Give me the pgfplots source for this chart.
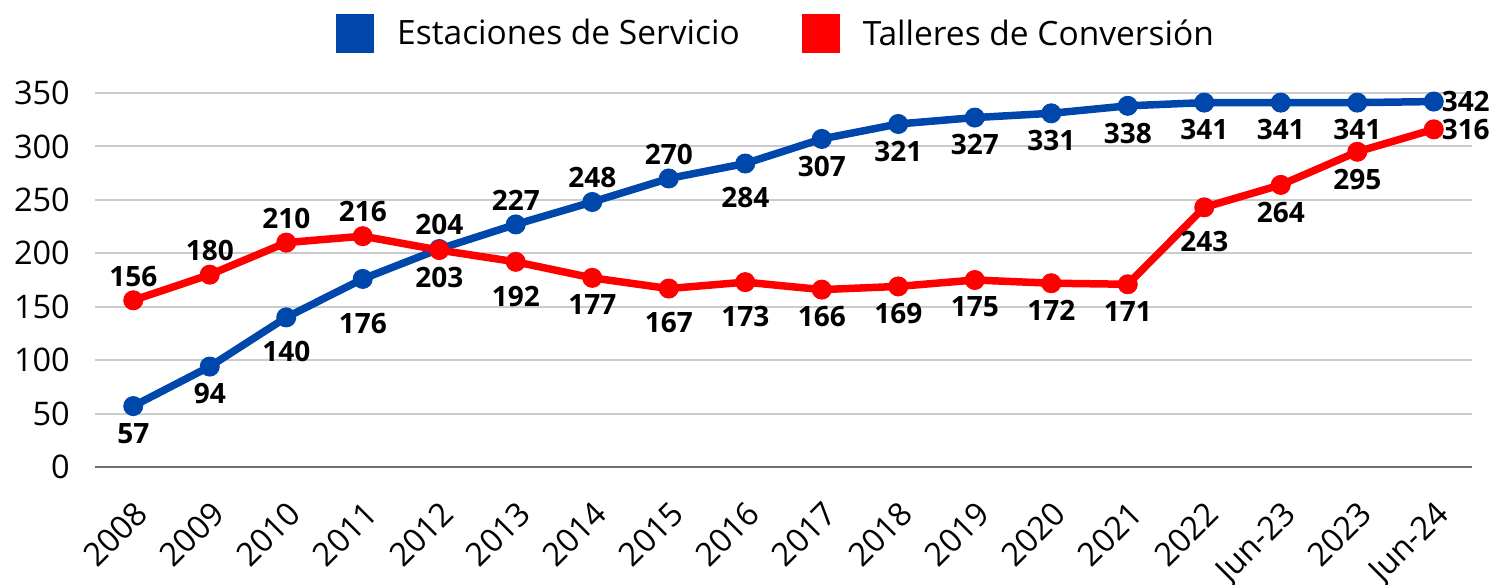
\documentclass[border=0pt]{standalone}
\usepackage{pgfplots}
\pgfplotsset{compat=1.18}
\usepackage{pgfplotstable}
\usepackage{fontspec}
\setmainfont{Open Sans}
\definecolor{cblue}{RGB}{0,71,171}
\definecolor{cred}{RGB}{255,0,0}
\definecolor{cgrid}{RGB}{204,204,204}
\definecolor{caxis}{RGB}{110,110,110}

\newcommand\lblnorth{\tikzset{anchor=north, outer sep=17pt}}
\newcommand\lblnorthB{\tikzset{anchor=north, outer sep=24pt}}
\newcommand\lblnorthC{\tikzset{anchor=north, outer sep=34pt}}
\newcommand\lblsouth{\tikzset{anchor=south, outer sep=14pt}}
\newcommand\lblwest{\tikzset{anchor=west, outer sep=8pt}}

\pgfplotstableread{
x y anc
0 57 north
1 94 north
2 140 northB
3 176 northC
4 204 south
5 227 south
6 248 south
7 270 south
8 284 northB
9 307 north
10 321 north
11 327 north
12 331 north
13 338 north
14 341 north
15 341 north
16 341 north
17 342 west
}\blueseries

\pgfplotstableread{
x y anc
0 156 south
1 180 south
2 210 south
3 216 south
4 203 north
5 192 northB
6 177 north
7 167 northB
8 173 northB
9 166 north
10 169 north
11 175 north
12 172 north
13 171 north
14 243 northB
15 264 north
16 295 north
17 316 west
}\redseries

\begin{document}
\begin{tikzpicture}
\begin{axis}[
  at={(0pt,0pt)}, anchor=south west,
  scale only axis, width=1377pt, height=374pt,
  xmin=-0.5, xmax=17.5, ymin=0, ymax=350,
  xtick={0,1,...,17},
  xticklabels={2008,2009,2010,2011,2012,2013,2014,2015,2016,2017,2018,2019,2020,2021,2022,Jun-23,2023,Jun-24},
  ytick={0,50,...,350},
  axis line style={draw=none},
  major tick length=0pt,
  ymajorgrids,
  grid style={cgrid, line width=2pt},
  extra y ticks={0}, extra y tick labels={},
  extra y tick style={major grid style={caxis, line width=2.5pt}},
  tick label style={font=\fontsize{32.5}{38}\selectfont},
  /pgf/number format/assume math mode=true,
  yticklabel style={anchor=east, inner sep=0pt, xshift=-25pt},
  xticklabel style={xshift=0pt, yshift=-32pt, rotate=45, anchor=north east, inner sep=0pt},
  clip=false,
  legend columns=2,
  legend style={draw=none, fill=none, at={(0.4946,1.1604)}, anchor=center,
    font=\fontsize{33.5}{38}\selectfont,
    /tikz/every even column/.append style={column sep=60pt}},
  legend image code/.code={\fill[#1, draw=none] (0pt,-19.5pt) rectangle (38pt,19.5pt); \path[draw=none, fill=none] (0pt,0pt) -- (59pt,0pt);},
  legend entries={Estaciones de Servicio, Talleres de Conversión},
  every node near coord/.append style={font=\bfseries\fontsize{28}{30}\selectfont, text=black, inner sep=0pt,
    /utils/exec={\csname lbl\pgfplotspointmeta\endcsname}},
]
\addlegendimage{color=cblue}
\addlegendimage{color=cred}
\addplot[forget plot, color=cblue, line width=7.5pt, mark=*, mark size=9.5pt, mark options={line width=1pt},
  point meta=explicit symbolic, visualization depends on={y \as \rawy},
  nodes near coords={\pgfmathprintnumber[fixed,precision=0]{\rawy}}]
  table[x=x, y=y, meta=anc] {\blueseries};
\addplot[forget plot, color=cred, line width=7.5pt, mark=*, mark size=9.5pt, mark options={line width=1pt},
  point meta=explicit symbolic, visualization depends on={y \as \rawy},
  nodes near coords={\pgfmathprintnumber[fixed,precision=0]{\rawy}}]
  table[x=x, y=y, meta=anc] {\redseries};
\end{axis}
\pgfresetboundingbox
\useasboundingbox (-95pt,-117pt) rectangle (1395pt,467pt);
\end{tikzpicture}
\end{document}
